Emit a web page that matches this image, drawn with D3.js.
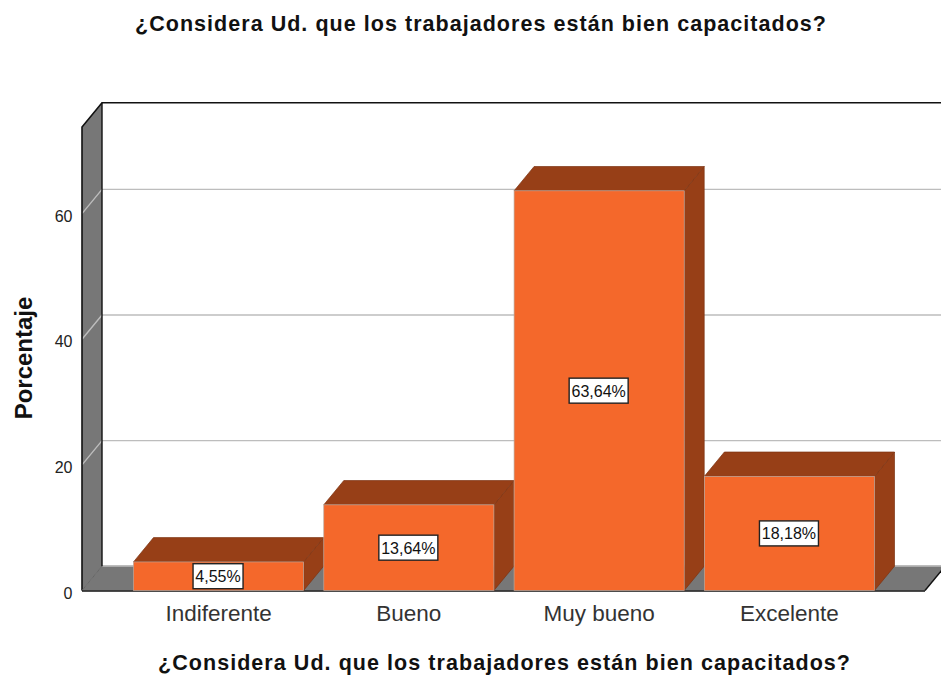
<!DOCTYPE html>
<html>
<head>
<meta charset="utf-8">
<script src="https://cdn.jsdelivr.net/npm/d3@7/dist/d3.min.js"></script>
<style>
html,body{margin:0;padding:0;background:#fff;overflow:hidden}
svg{display:block;font-family:"Liberation Sans",Arial,sans-serif}
</style>
</head>
<body>
<svg id="c" width="941" height="675"></svg>
<script>
const categories = ["Indiferente","Bueno","Muy bueno","Excelente"];
const values = [4.55,13.64,63.64,18.18];
const valueLabels = ["4,55%","13,64%","63,64%","18,18%"];
const yTicks = [0,20,40,60];
const titleText = "¿Considera Ud. que los trabajadores están bien capacitados?";
const yTitle = "Porcentaje";

const svg = d3.select("#c");
const dx = 20, dy = 24.3;
const y = d3.scaleLinear().domain([0,73.8]).range([590.5,127]);
const x = d3.scaleBand().domain(categories).range([123.4,884.6]).paddingInner(0.106).paddingOuter(0.053);
const left = 82, right = 925, y0 = y(0), yTop = y.range()[1];
const poly = pts => pts.map(p=>p.join(",")).join(" ");
const WALL = "#777777", FRONT = "#f4682b", DARK = "#973f17", GRID = "#bdbdbd";

// left wall and floor
svg.append("polygon").attr("points",poly([[left,y0],[left,yTop],[left+dx,yTop-dy],[left+dx,y0-dy]])).attr("fill",WALL);
svg.append("polygon").attr("points",poly([[left,y0],[left+dx,y0-dy],[right+dx,y0-dy],[right,y0]])).attr("fill",WALL);
svg.append("line").attr("x1",left+dx).attr("x2",941).attr("y1",y0-dy-0.5).attr("y2",y0-dy-0.5).attr("stroke",GRID).attr("stroke-width",1.5);

// gridlines on wall and back
const gridTicks = yTicks.filter(d=>d>0);
svg.selectAll(".g").data(gridTicks).join("path").attr("class","g")
  .attr("d",d=>`M${left},${y(d)}L${left+dx},${y(d)-dy}L941,${y(d)-dy}`)
  .attr("fill","none").attr("stroke",GRID).attr("stroke-width",1.4);

// wall outlines
svg.append("path").attr("d",`M${left},${y0}L${left},${yTop}L${left+dx},${yTop-dy}L941,${yTop-dy}`)
  .attr("fill","none").attr("stroke","#111").attr("stroke-width",1.6);
svg.append("line").attr("x1",left+dx).attr("x2",left+dx).attr("y1",yTop-dy).attr("y2",y0-dy)
  .attr("stroke","#111").attr("stroke-width",1.4);
svg.append("line").attr("x1",left).attr("x2",left+dx).attr("y1",y0).attr("y2",y0-dy)
  .attr("stroke","#666").attr("stroke-width",1);
svg.append("line").attr("x1",right).attr("x2",right+dx).attr("y1",y0).attr("y2",y0-dy)
  .attr("stroke","#111").attr("stroke-width",1.4);
svg.append("line").attr("x1",left).attr("x2",right).attr("y1",y0+0.5).attr("y2",y0+0.5)
  .attr("stroke","#111").attr("stroke-width",1.6);

// bars
const bars = svg.selectAll(".bar").data(categories.map((c,i)=>({c,v:values[i],l:valueLabels[i]}))).join("g").attr("class","bar");
bars.append("polygon").attr("points",d=>{const a=x(d.c),b=a+x.bandwidth(),t=y(d.v);
  return poly([[b,t],[b+dx,t-dy],[b+dx,y0-dy],[b,y0]]);}).attr("fill",DARK).attr("stroke","#7d3412").attr("stroke-width",0.7);
bars.append("polygon").attr("points",d=>{const a=x(d.c),b=a+x.bandwidth(),t=y(d.v);
  return poly([[a,t],[a+dx,t-dy],[b+dx,t-dy],[b,t]]);}).attr("fill",DARK).attr("stroke","#7d3412").attr("stroke-width",0.7);
bars.append("rect").attr("x",d=>x(d.c)).attr("y",d=>y(d.v)).attr("width",x.bandwidth()).attr("height",d=>y0-y(d.v))
  .attr("fill",FRONT).attr("stroke","#b9a79d").attr("stroke-width",0.7);

// value labels
const lw = d=>d.l.length>5?59:50;
const cx = d=>x(d.c)+x.bandwidth()/2-0.5;
bars.append("rect").attr("x",d=>cx(d)-lw(d)/2).attr("y",d=>(y(d.v)+y0)/2-12.5)
  .attr("width",lw).attr("height",25).attr("fill","#fff").attr("stroke","#222").attr("stroke-width",1.4);
bars.append("text").attr("x",cx).attr("y",d=>(y(d.v)+y0)/2+6)
  .attr("text-anchor","middle").attr("font-size",16).attr("fill","#111").text(d=>d.l);

// axes
const yAxis = svg.append("g").attr("transform","translate(72.5,2.5)").call(d3.axisLeft(y).tickValues(yTicks).tickSize(0).tickPadding(0));
yAxis.select(".domain").remove();
yAxis.selectAll("text").attr("font-size",16).attr("fill","#222").attr("font-family","inherit");
const xAxis = svg.append("g").attr("transform",`translate(0,${y0})`).call(d3.axisBottom(x).tickSize(0).tickPadding(15));
xAxis.select(".domain").remove();
xAxis.selectAll("text").attr("font-size",22.5).attr("fill","#333").attr("font-family","inherit");

// titles
const title = (sel,size,len)=>{sel.attr("text-anchor","middle").attr("font-size",size).attr("font-weight","bold").attr("fill","#111");
  if(len) sel.attr("textLength",len).attr("lengthAdjust","spacing");};
svg.append("text").attr("x",480.5).attr("y",31).call(title,21.5,691).text(titleText);
svg.append("text").attr("x",504).attr("y",669.5).call(title,21.5,692).text(titleText);
svg.append("text").attr("transform","translate(31.5,358) rotate(-90)").call(title,24).text(yTitle);
</script>
</body>
</html>
